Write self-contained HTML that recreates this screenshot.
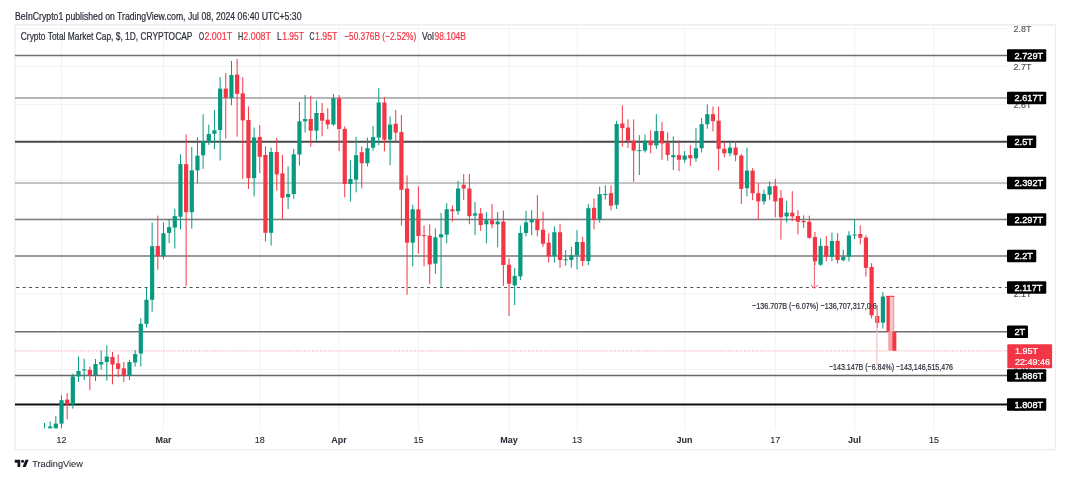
<!DOCTYPE html><html><head><meta charset="utf-8"><style>
html,body{margin:0;padding:0;background:#fff;}
body{width:1070px;height:479px;overflow:hidden;}
svg{display:block;font-family:"Liberation Sans",sans-serif;will-change:transform;}
text{stroke-width:0.22px;}
</style></head><body>
<svg width="1070" height="479" viewBox="0 0 1070 479">
<rect x="0" y="0" width="1070" height="479" fill="#fff"/>

<text x="15" y="19.5" font-size="10" fill="#2a2e39" stroke="#2a2e39" textLength="286.5" lengthAdjust="spacingAndGlyphs">BeInCrypto1 published on TradingView.com, Jul 08, 2024 06:40 UTC+5:30</text>
<rect x="14.9" y="25" width="1040.6" height="424.7" fill="none" stroke="#ededed" stroke-width="1.4"/>
<line x1="61.5" y1="25.5" x2="61.5" y2="430" stroke="#f1f2f4" stroke-width="1"/>
<line x1="163.5" y1="25.5" x2="163.5" y2="430" stroke="#f1f2f4" stroke-width="1"/>
<line x1="259.8" y1="25.5" x2="259.8" y2="430" stroke="#f1f2f4" stroke-width="1"/>
<line x1="339.1" y1="25.5" x2="339.1" y2="430" stroke="#f1f2f4" stroke-width="1"/>
<line x1="418.4" y1="25.5" x2="418.4" y2="430" stroke="#f1f2f4" stroke-width="1"/>
<line x1="509.0" y1="25.5" x2="509.0" y2="430" stroke="#f1f2f4" stroke-width="1"/>
<line x1="577.0" y1="25.5" x2="577.0" y2="430" stroke="#f1f2f4" stroke-width="1"/>
<line x1="684.6" y1="25.5" x2="684.6" y2="430" stroke="#f1f2f4" stroke-width="1"/>
<line x1="775.3" y1="25.5" x2="775.3" y2="430" stroke="#f1f2f4" stroke-width="1"/>
<line x1="854.6" y1="25.5" x2="854.6" y2="430" stroke="#f1f2f4" stroke-width="1"/>
<line x1="933.9" y1="25.5" x2="933.9" y2="430" stroke="#f1f2f4" stroke-width="1"/>
<line x1="15.5" y1="407.5" x2="1007" y2="407.5" stroke="#f1f2f4" stroke-width="1"/>
<line x1="15.5" y1="369.6" x2="1007" y2="369.6" stroke="#f1f2f4" stroke-width="1"/>
<line x1="15.5" y1="331.7" x2="1007" y2="331.7" stroke="#f1f2f4" stroke-width="1"/>
<line x1="15.5" y1="293.8" x2="1007" y2="293.8" stroke="#f1f2f4" stroke-width="1"/>
<line x1="15.5" y1="255.9" x2="1007" y2="255.9" stroke="#f1f2f4" stroke-width="1"/>
<line x1="15.5" y1="218.0" x2="1007" y2="218.0" stroke="#f1f2f4" stroke-width="1"/>
<line x1="15.5" y1="180.2" x2="1007" y2="180.2" stroke="#f1f2f4" stroke-width="1"/>
<line x1="15.5" y1="142.3" x2="1007" y2="142.3" stroke="#f1f2f4" stroke-width="1"/>
<line x1="15.5" y1="104.4" x2="1007" y2="104.4" stroke="#f1f2f4" stroke-width="1"/>
<line x1="15.5" y1="66.5" x2="1007" y2="66.5" stroke="#f1f2f4" stroke-width="1"/>
<line x1="15.5" y1="28.6" x2="1007" y2="28.6" stroke="#f1f2f4" stroke-width="1"/>
<text x="1013.5" y="410.8" font-size="9" fill="#4a4d57" stroke="#4a4d57" style="stroke-width:0.1px">1.8T</text>
<text x="1013.5" y="372.9" font-size="9" fill="#4a4d57" stroke="#4a4d57" style="stroke-width:0.1px">1.9T</text>
<text x="1013.5" y="335.0" font-size="9" fill="#4a4d57" stroke="#4a4d57" style="stroke-width:0.1px">2T</text>
<text x="1013.5" y="297.1" font-size="9" fill="#4a4d57" stroke="#4a4d57" style="stroke-width:0.1px">2.1T</text>
<text x="1013.5" y="259.2" font-size="9" fill="#4a4d57" stroke="#4a4d57" style="stroke-width:0.1px">2.2T</text>
<text x="1013.5" y="221.3" font-size="9" fill="#4a4d57" stroke="#4a4d57" style="stroke-width:0.1px">2.3T</text>
<text x="1013.5" y="183.5" font-size="9" fill="#4a4d57" stroke="#4a4d57" style="stroke-width:0.1px">2.4T</text>
<text x="1013.5" y="145.6" font-size="9" fill="#4a4d57" stroke="#4a4d57" style="stroke-width:0.1px">2.5T</text>
<text x="1013.5" y="107.7" font-size="9" fill="#4a4d57" stroke="#4a4d57" style="stroke-width:0.1px">2.6T</text>
<text x="1013.5" y="69.8" font-size="9" fill="#4a4d57" stroke="#4a4d57" style="stroke-width:0.1px">2.7T</text>
<text x="1013.5" y="31.9" font-size="9" fill="#4a4d57" stroke="#4a4d57" style="stroke-width:0.1px">2.8T</text>
<line x1="15" y1="55.5" x2="1007" y2="55.5" stroke="#6e6e6e" stroke-width="1.5"/>
<line x1="15" y1="98" x2="1007" y2="98" stroke="#6e6e6e" stroke-width="1.2"/>
<line x1="15" y1="141.75" x2="1007" y2="141.75" stroke="#4a4a4a" stroke-width="1.8"/>
<line x1="15" y1="183" x2="1007" y2="183" stroke="#8a8a8a" stroke-width="1.2"/>
<line x1="15" y1="219.5" x2="1007" y2="219.5" stroke="#7a7a7a" stroke-width="1.3"/>
<line x1="15" y1="256" x2="1007" y2="256" stroke="#7a7a7a" stroke-width="1.3"/>
<line x1="15" y1="331.75" x2="1007" y2="331.75" stroke="#707070" stroke-width="1.3"/>
<line x1="15" y1="375.5" x2="1007" y2="375.5" stroke="#666" stroke-width="1.3"/>
<line x1="15" y1="404.5" x2="1007" y2="404.5" stroke="#111" stroke-width="2"/>
<line x1="16.24" y1="287.5" x2="1007" y2="287.5" stroke="#505050" stroke-width="1.2" stroke-dasharray="3 3.42"/>
<line x1="15" y1="350.9" x2="1007" y2="350.9" stroke="#f6aab1" stroke-width="1" stroke-dasharray="1.5 1.2"/>
<line x1="44.50" y1="423.0" x2="44.50" y2="428.3" stroke="#089981" stroke-width="1"/>
<line x1="50.17" y1="421.5" x2="50.17" y2="428.3" stroke="#089981" stroke-width="1"/>
<rect x="48.07" y="426.5" width="4.2" height="1.80" fill="#089981"/>
<line x1="55.84" y1="416.0" x2="55.84" y2="428.3" stroke="#089981" stroke-width="1"/>
<rect x="53.73" y="423.6" width="4.2" height="4.70" fill="#089981"/>
<line x1="61.50" y1="395.3" x2="61.50" y2="428.3" stroke="#089981" stroke-width="1"/>
<rect x="59.40" y="400.2" width="4.2" height="23.40" fill="#089981"/>
<line x1="67.17" y1="393.0" x2="67.17" y2="419.4" stroke="#f23645" stroke-width="1"/>
<rect x="65.07" y="399.6" width="4.2" height="4.90" fill="#f23645"/>
<line x1="72.83" y1="373.6" x2="72.83" y2="408.7" stroke="#089981" stroke-width="1"/>
<rect x="70.73" y="376.4" width="4.2" height="28.10" fill="#089981"/>
<line x1="78.50" y1="356.6" x2="78.50" y2="382.1" stroke="#089981" stroke-width="1"/>
<rect x="76.40" y="371.0" width="4.2" height="5.40" fill="#089981"/>
<line x1="84.16" y1="358.7" x2="84.16" y2="380.0" stroke="#089981" stroke-width="1"/>
<rect x="82.06" y="369.4" width="4.2" height="1.10" fill="#089981"/>
<line x1="89.83" y1="366.6" x2="89.83" y2="390.2" stroke="#f23645" stroke-width="1"/>
<rect x="87.73" y="369.8" width="4.2" height="5.30" fill="#f23645"/>
<line x1="95.49" y1="359.0" x2="95.49" y2="381.0" stroke="#089981" stroke-width="1"/>
<rect x="93.39" y="364.0" width="4.2" height="11.10" fill="#089981"/>
<line x1="101.16" y1="350.6" x2="101.16" y2="369.8" stroke="#089981" stroke-width="1"/>
<rect x="99.06" y="362.0" width="4.2" height="2.50" fill="#089981"/>
<line x1="106.82" y1="345.3" x2="106.82" y2="380.6" stroke="#089981" stroke-width="1"/>
<rect x="104.72" y="356.6" width="4.2" height="5.40" fill="#089981"/>
<line x1="112.48" y1="352.0" x2="112.48" y2="384.3" stroke="#f23645" stroke-width="1"/>
<rect x="110.39" y="357.0" width="4.2" height="7.50" fill="#f23645"/>
<line x1="118.15" y1="354.5" x2="118.15" y2="377.2" stroke="#f23645" stroke-width="1"/>
<rect x="116.05" y="363.4" width="4.2" height="5.50" fill="#f23645"/>
<line x1="123.81" y1="362.0" x2="123.81" y2="382.0" stroke="#f23645" stroke-width="1"/>
<rect x="121.72" y="368.3" width="4.2" height="7.40" fill="#f23645"/>
<line x1="129.48" y1="359.8" x2="129.48" y2="380.0" stroke="#089981" stroke-width="1"/>
<rect x="127.38" y="362.0" width="4.2" height="13.70" fill="#089981"/>
<line x1="135.14" y1="350.0" x2="135.14" y2="366.6" stroke="#089981" stroke-width="1"/>
<rect x="133.04" y="354.1" width="4.2" height="8.40" fill="#089981"/>
<line x1="140.81" y1="318.2" x2="140.81" y2="366.6" stroke="#089981" stroke-width="1"/>
<rect x="138.71" y="323.8" width="4.2" height="29.70" fill="#089981"/>
<line x1="146.47" y1="287.3" x2="146.47" y2="327.6" stroke="#089981" stroke-width="1"/>
<rect x="144.38" y="299.8" width="4.2" height="24.00" fill="#089981"/>
<line x1="152.14" y1="222.5" x2="152.14" y2="311.7" stroke="#089981" stroke-width="1"/>
<rect x="150.04" y="246.2" width="4.2" height="53.60" fill="#089981"/>
<line x1="157.81" y1="215.6" x2="157.81" y2="269.7" stroke="#f23645" stroke-width="1"/>
<rect x="155.71" y="246.0" width="4.2" height="10.30" fill="#f23645"/>
<line x1="163.47" y1="222.5" x2="163.47" y2="259.3" stroke="#089981" stroke-width="1"/>
<rect x="161.37" y="233.3" width="4.2" height="23.00" fill="#089981"/>
<line x1="169.13" y1="219.0" x2="169.13" y2="243.2" stroke="#089981" stroke-width="1"/>
<rect x="167.03" y="227.1" width="4.2" height="5.80" fill="#089981"/>
<line x1="174.80" y1="208.7" x2="174.80" y2="248.5" stroke="#089981" stroke-width="1"/>
<rect x="172.70" y="216.1" width="4.2" height="11.50" fill="#089981"/>
<line x1="180.47" y1="154.3" x2="180.47" y2="229.4" stroke="#089981" stroke-width="1"/>
<rect x="178.37" y="164.1" width="4.2" height="52.70" fill="#089981"/>
<line x1="186.13" y1="134.4" x2="186.13" y2="286.2" stroke="#f23645" stroke-width="1"/>
<rect x="184.03" y="164.1" width="4.2" height="48.10" fill="#f23645"/>
<line x1="191.79" y1="147.0" x2="191.79" y2="228.7" stroke="#089981" stroke-width="1"/>
<rect x="189.69" y="170.4" width="4.2" height="41.80" fill="#089981"/>
<line x1="197.46" y1="137.2" x2="197.46" y2="183.5" stroke="#089981" stroke-width="1"/>
<rect x="195.36" y="155.7" width="4.2" height="14.70" fill="#089981"/>
<line x1="203.12" y1="114.2" x2="203.12" y2="168.9" stroke="#089981" stroke-width="1"/>
<rect x="201.03" y="141.1" width="4.2" height="14.20" fill="#089981"/>
<line x1="208.79" y1="124.6" x2="208.79" y2="144.9" stroke="#089981" stroke-width="1"/>
<rect x="206.69" y="134.0" width="4.2" height="7.80" fill="#089981"/>
<line x1="214.46" y1="110.0" x2="214.46" y2="149.0" stroke="#089981" stroke-width="1"/>
<rect x="212.36" y="130.3" width="4.2" height="3.50" fill="#089981"/>
<line x1="220.12" y1="77.1" x2="220.12" y2="160.5" stroke="#089981" stroke-width="1"/>
<rect x="218.02" y="88.6" width="4.2" height="41.40" fill="#089981"/>
<line x1="225.78" y1="73.0" x2="225.78" y2="138.7" stroke="#f23645" stroke-width="1"/>
<rect x="223.69" y="88.6" width="4.2" height="9.40" fill="#f23645"/>
<line x1="231.45" y1="60.9" x2="231.45" y2="105.3" stroke="#089981" stroke-width="1"/>
<rect x="229.35" y="75.0" width="4.2" height="23.00" fill="#089981"/>
<line x1="237.12" y1="58.8" x2="237.12" y2="136.6" stroke="#f23645" stroke-width="1"/>
<rect x="235.02" y="74.6" width="4.2" height="19.20" fill="#f23645"/>
<line x1="242.78" y1="77.1" x2="242.78" y2="178.9" stroke="#f23645" stroke-width="1"/>
<rect x="240.68" y="93.4" width="4.2" height="27.00" fill="#f23645"/>
<line x1="248.44" y1="106.4" x2="248.44" y2="188.9" stroke="#f23645" stroke-width="1"/>
<rect x="246.34" y="120.0" width="4.2" height="58.10" fill="#f23645"/>
<line x1="254.11" y1="127.5" x2="254.11" y2="196.4" stroke="#089981" stroke-width="1"/>
<rect x="252.01" y="137.5" width="4.2" height="40.60" fill="#089981"/>
<line x1="259.77" y1="125.2" x2="259.77" y2="173.1" stroke="#f23645" stroke-width="1"/>
<rect x="257.67" y="137.0" width="4.2" height="19.80" fill="#f23645"/>
<line x1="265.44" y1="146.3" x2="265.44" y2="241.5" stroke="#f23645" stroke-width="1"/>
<rect x="263.34" y="155.0" width="4.2" height="77.80" fill="#f23645"/>
<line x1="271.11" y1="147.6" x2="271.11" y2="245.5" stroke="#089981" stroke-width="1"/>
<rect x="269.00" y="152.0" width="4.2" height="80.80" fill="#089981"/>
<line x1="276.77" y1="138.0" x2="276.77" y2="190.7" stroke="#f23645" stroke-width="1"/>
<rect x="274.67" y="152.0" width="4.2" height="22.40" fill="#f23645"/>
<line x1="282.44" y1="155.0" x2="282.44" y2="219.0" stroke="#f23645" stroke-width="1"/>
<rect x="280.33" y="173.4" width="4.2" height="24.30" fill="#f23645"/>
<line x1="288.10" y1="166.4" x2="288.10" y2="209.0" stroke="#089981" stroke-width="1"/>
<rect x="286.00" y="194.0" width="4.2" height="3.20" fill="#089981"/>
<line x1="293.76" y1="148.8" x2="293.76" y2="199.0" stroke="#089981" stroke-width="1"/>
<rect x="291.66" y="154.3" width="4.2" height="39.70" fill="#089981"/>
<line x1="299.43" y1="101.9" x2="299.43" y2="165.6" stroke="#089981" stroke-width="1"/>
<rect x="297.33" y="121.3" width="4.2" height="33.20" fill="#089981"/>
<line x1="305.10" y1="95.0" x2="305.10" y2="132.6" stroke="#089981" stroke-width="1"/>
<rect x="303.00" y="119.0" width="4.2" height="2.30" fill="#089981"/>
<line x1="310.76" y1="95.7" x2="310.76" y2="146.8" stroke="#f23645" stroke-width="1"/>
<rect x="308.66" y="119.0" width="4.2" height="11.70" fill="#f23645"/>
<line x1="316.43" y1="100.5" x2="316.43" y2="140.5" stroke="#089981" stroke-width="1"/>
<rect x="314.32" y="113.0" width="4.2" height="17.70" fill="#089981"/>
<line x1="322.09" y1="103.0" x2="322.09" y2="136.4" stroke="#f23645" stroke-width="1"/>
<rect x="319.99" y="113.0" width="4.2" height="7.70" fill="#f23645"/>
<line x1="327.75" y1="108.2" x2="327.75" y2="129.0" stroke="#f23645" stroke-width="1"/>
<rect x="325.65" y="119.7" width="4.2" height="4.80" fill="#f23645"/>
<line x1="333.42" y1="94.0" x2="333.42" y2="126.0" stroke="#089981" stroke-width="1"/>
<rect x="331.32" y="98.2" width="4.2" height="26.30" fill="#089981"/>
<line x1="339.08" y1="95.0" x2="339.08" y2="151.0" stroke="#f23645" stroke-width="1"/>
<rect x="336.98" y="98.2" width="4.2" height="30.80" fill="#f23645"/>
<line x1="344.75" y1="126.4" x2="344.75" y2="197.3" stroke="#f23645" stroke-width="1"/>
<rect x="342.65" y="128.9" width="4.2" height="55.10" fill="#f23645"/>
<line x1="350.42" y1="160.2" x2="350.42" y2="201.5" stroke="#089981" stroke-width="1"/>
<rect x="348.31" y="179.0" width="4.2" height="5.00" fill="#089981"/>
<line x1="356.08" y1="136.9" x2="356.08" y2="192.3" stroke="#089981" stroke-width="1"/>
<rect x="353.98" y="155.2" width="4.2" height="24.50" fill="#089981"/>
<line x1="361.75" y1="146.4" x2="361.75" y2="188.3" stroke="#f23645" stroke-width="1"/>
<rect x="359.64" y="152.2" width="4.2" height="11.00" fill="#f23645"/>
<line x1="367.41" y1="137.6" x2="367.41" y2="166.5" stroke="#089981" stroke-width="1"/>
<rect x="365.31" y="148.2" width="4.2" height="15.00" fill="#089981"/>
<line x1="373.07" y1="125.9" x2="373.07" y2="150.7" stroke="#089981" stroke-width="1"/>
<rect x="370.97" y="137.1" width="4.2" height="10.60" fill="#089981"/>
<line x1="378.74" y1="88.0" x2="378.74" y2="145.2" stroke="#089981" stroke-width="1"/>
<rect x="376.64" y="102.5" width="4.2" height="35.10" fill="#089981"/>
<line x1="384.41" y1="97.0" x2="384.41" y2="151.4" stroke="#f23645" stroke-width="1"/>
<rect x="382.31" y="102.5" width="4.2" height="37.10" fill="#f23645"/>
<line x1="390.07" y1="116.3" x2="390.07" y2="165.2" stroke="#089981" stroke-width="1"/>
<rect x="387.97" y="124.6" width="4.2" height="15.00" fill="#089981"/>
<line x1="395.74" y1="110.0" x2="395.74" y2="141.4" stroke="#f23645" stroke-width="1"/>
<rect x="393.63" y="123.8" width="4.2" height="8.80" fill="#f23645"/>
<line x1="401.40" y1="115.0" x2="401.40" y2="225.6" stroke="#f23645" stroke-width="1"/>
<rect x="399.30" y="132.1" width="4.2" height="57.70" fill="#f23645"/>
<line x1="407.06" y1="175.4" x2="407.06" y2="294.8" stroke="#f23645" stroke-width="1"/>
<rect x="404.96" y="188.5" width="4.2" height="54.20" fill="#f23645"/>
<line x1="412.73" y1="204.7" x2="412.73" y2="266.3" stroke="#089981" stroke-width="1"/>
<rect x="410.63" y="209.3" width="4.2" height="33.40" fill="#089981"/>
<line x1="418.39" y1="186.3" x2="418.39" y2="253.6" stroke="#f23645" stroke-width="1"/>
<rect x="416.29" y="209.3" width="4.2" height="26.70" fill="#f23645"/>
<line x1="424.06" y1="225.6" x2="424.06" y2="266.3" stroke="#f23645" stroke-width="1"/>
<rect x="421.96" y="235.1" width="4.2" height="1.00" fill="#f23645"/>
<line x1="429.73" y1="224.3" x2="429.73" y2="284.0" stroke="#f23645" stroke-width="1"/>
<rect x="427.62" y="235.7" width="4.2" height="28.70" fill="#f23645"/>
<line x1="435.39" y1="228.3" x2="435.39" y2="273.7" stroke="#089981" stroke-width="1"/>
<rect x="433.29" y="237.3" width="4.2" height="26.30" fill="#089981"/>
<line x1="441.06" y1="212.9" x2="441.06" y2="288.0" stroke="#089981" stroke-width="1"/>
<rect x="438.95" y="234.3" width="4.2" height="3.00" fill="#089981"/>
<line x1="446.72" y1="203.1" x2="446.72" y2="243.3" stroke="#089981" stroke-width="1"/>
<rect x="444.62" y="209.3" width="4.2" height="25.30" fill="#089981"/>
<line x1="452.38" y1="205.3" x2="452.38" y2="221.6" stroke="#f23645" stroke-width="1"/>
<rect x="450.28" y="209.3" width="4.2" height="1.90" fill="#f23645"/>
<line x1="458.05" y1="180.9" x2="458.05" y2="214.8" stroke="#089981" stroke-width="1"/>
<rect x="455.95" y="188.5" width="4.2" height="22.70" fill="#089981"/>
<line x1="463.71" y1="174.0" x2="463.71" y2="199.9" stroke="#f23645" stroke-width="1"/>
<rect x="461.61" y="184.9" width="4.2" height="3.60" fill="#f23645"/>
<line x1="469.38" y1="174.0" x2="469.38" y2="224.3" stroke="#f23645" stroke-width="1"/>
<rect x="467.28" y="188.5" width="4.2" height="27.60" fill="#f23645"/>
<line x1="475.05" y1="202.0" x2="475.05" y2="235.1" stroke="#089981" stroke-width="1"/>
<rect x="472.94" y="213.4" width="4.2" height="2.20" fill="#089981"/>
<line x1="480.71" y1="208.0" x2="480.71" y2="231.0" stroke="#f23645" stroke-width="1"/>
<rect x="478.61" y="213.4" width="4.2" height="11.70" fill="#f23645"/>
<line x1="486.38" y1="212.0" x2="486.38" y2="243.3" stroke="#089981" stroke-width="1"/>
<rect x="484.27" y="220.2" width="4.2" height="4.10" fill="#089981"/>
<line x1="492.04" y1="203.9" x2="492.04" y2="228.3" stroke="#f23645" stroke-width="1"/>
<rect x="489.94" y="220.2" width="4.2" height="4.10" fill="#f23645"/>
<line x1="497.70" y1="212.0" x2="497.70" y2="247.3" stroke="#089981" stroke-width="1"/>
<rect x="495.60" y="221.6" width="4.2" height="2.70" fill="#089981"/>
<line x1="503.37" y1="210.7" x2="503.37" y2="285.9" stroke="#f23645" stroke-width="1"/>
<rect x="501.27" y="221.6" width="4.2" height="43.40" fill="#f23645"/>
<line x1="509.04" y1="258.4" x2="509.04" y2="316.0" stroke="#f23645" stroke-width="1"/>
<rect x="506.94" y="264.7" width="4.2" height="19.00" fill="#f23645"/>
<line x1="514.70" y1="268.0" x2="514.70" y2="305.1" stroke="#089981" stroke-width="1"/>
<rect x="512.60" y="275.9" width="4.2" height="9.50" fill="#089981"/>
<line x1="520.37" y1="225.6" x2="520.37" y2="280.0" stroke="#089981" stroke-width="1"/>
<rect x="518.26" y="233.0" width="4.2" height="43.40" fill="#089981"/>
<line x1="526.03" y1="210.7" x2="526.03" y2="236.5" stroke="#089981" stroke-width="1"/>
<rect x="523.93" y="222.4" width="4.2" height="10.60" fill="#089981"/>
<line x1="531.69" y1="210.2" x2="531.69" y2="235.2" stroke="#089981" stroke-width="1"/>
<rect x="529.59" y="219.3" width="4.2" height="3.10" fill="#089981"/>
<line x1="537.36" y1="195.0" x2="537.36" y2="236.4" stroke="#f23645" stroke-width="1"/>
<rect x="535.26" y="219.2" width="4.2" height="10.90" fill="#f23645"/>
<line x1="543.02" y1="211.7" x2="543.02" y2="246.8" stroke="#f23645" stroke-width="1"/>
<rect x="540.92" y="229.7" width="4.2" height="14.00" fill="#f23645"/>
<line x1="548.69" y1="233.2" x2="548.69" y2="262.5" stroke="#f23645" stroke-width="1"/>
<rect x="546.59" y="242.6" width="4.2" height="13.60" fill="#f23645"/>
<line x1="554.36" y1="226.3" x2="554.36" y2="262.5" stroke="#089981" stroke-width="1"/>
<rect x="552.25" y="232.2" width="4.2" height="24.00" fill="#089981"/>
<line x1="560.02" y1="223.8" x2="560.02" y2="267.7" stroke="#f23645" stroke-width="1"/>
<rect x="557.92" y="232.2" width="4.2" height="27.80" fill="#f23645"/>
<line x1="565.68" y1="250.0" x2="565.68" y2="265.6" stroke="#089981" stroke-width="1"/>
<rect x="563.58" y="259.3" width="4.2" height="1.00" fill="#089981"/>
<line x1="571.35" y1="246.8" x2="571.35" y2="267.7" stroke="#089981" stroke-width="1"/>
<rect x="569.25" y="255.2" width="4.2" height="4.80" fill="#089981"/>
<line x1="577.01" y1="230.1" x2="577.01" y2="269.4" stroke="#089981" stroke-width="1"/>
<rect x="574.91" y="242.0" width="4.2" height="13.20" fill="#089981"/>
<line x1="582.68" y1="236.8" x2="582.68" y2="266.0" stroke="#f23645" stroke-width="1"/>
<rect x="580.58" y="242.0" width="4.2" height="19.00" fill="#f23645"/>
<line x1="588.35" y1="204.0" x2="588.35" y2="265.2" stroke="#089981" stroke-width="1"/>
<rect x="586.25" y="208.2" width="4.2" height="52.80" fill="#089981"/>
<line x1="594.01" y1="198.4" x2="594.01" y2="229.5" stroke="#f23645" stroke-width="1"/>
<rect x="591.91" y="207.8" width="4.2" height="11.90" fill="#f23645"/>
<line x1="599.67" y1="186.7" x2="599.67" y2="222.8" stroke="#089981" stroke-width="1"/>
<rect x="597.57" y="194.2" width="4.2" height="25.50" fill="#089981"/>
<line x1="605.34" y1="185.4" x2="605.34" y2="199.5" stroke="#089981" stroke-width="1"/>
<rect x="603.24" y="194.0" width="4.2" height="1.00" fill="#089981"/>
<line x1="611.00" y1="185.4" x2="611.00" y2="210.3" stroke="#f23645" stroke-width="1"/>
<rect x="608.90" y="193.2" width="4.2" height="12.50" fill="#f23645"/>
<line x1="616.67" y1="120.8" x2="616.67" y2="209.0" stroke="#089981" stroke-width="1"/>
<rect x="614.57" y="124.0" width="4.2" height="80.90" fill="#089981"/>
<line x1="622.34" y1="105.3" x2="622.34" y2="146.6" stroke="#f23645" stroke-width="1"/>
<rect x="620.24" y="123.5" width="4.2" height="4.60" fill="#f23645"/>
<line x1="628.00" y1="119.4" x2="628.00" y2="147.9" stroke="#f23645" stroke-width="1"/>
<rect x="625.90" y="127.6" width="4.2" height="13.00" fill="#f23645"/>
<line x1="633.66" y1="119.4" x2="633.66" y2="181.8" stroke="#f23645" stroke-width="1"/>
<rect x="631.56" y="140.6" width="4.2" height="10.00" fill="#f23645"/>
<line x1="639.33" y1="135.2" x2="639.33" y2="175.0" stroke="#089981" stroke-width="1"/>
<rect x="637.23" y="150.1" width="4.2" height="1.00" fill="#089981"/>
<line x1="645.00" y1="134.3" x2="645.00" y2="152.5" stroke="#089981" stroke-width="1"/>
<rect x="642.89" y="140.6" width="4.2" height="10.00" fill="#089981"/>
<line x1="650.66" y1="130.3" x2="650.66" y2="153.3" stroke="#f23645" stroke-width="1"/>
<rect x="648.56" y="140.6" width="4.2" height="4.60" fill="#f23645"/>
<line x1="656.33" y1="114.1" x2="656.33" y2="149.0" stroke="#089981" stroke-width="1"/>
<rect x="654.23" y="131.1" width="4.2" height="14.40" fill="#089981"/>
<line x1="661.99" y1="122.1" x2="661.99" y2="159.7" stroke="#f23645" stroke-width="1"/>
<rect x="659.89" y="131.1" width="4.2" height="12.30" fill="#f23645"/>
<line x1="667.65" y1="132.2" x2="667.65" y2="160.8" stroke="#f23645" stroke-width="1"/>
<rect x="665.55" y="142.6" width="4.2" height="12.30" fill="#f23645"/>
<line x1="673.32" y1="136.3" x2="673.32" y2="170.2" stroke="#089981" stroke-width="1"/>
<rect x="671.22" y="155.1" width="4.2" height="2.10" fill="#089981"/>
<line x1="678.99" y1="140.5" x2="678.99" y2="171.2" stroke="#f23645" stroke-width="1"/>
<rect x="676.88" y="155.1" width="4.2" height="4.60" fill="#f23645"/>
<line x1="684.65" y1="151.0" x2="684.65" y2="162.8" stroke="#089981" stroke-width="1"/>
<rect x="682.55" y="155.5" width="4.2" height="4.20" fill="#089981"/>
<line x1="690.32" y1="145.1" x2="690.32" y2="166.0" stroke="#f23645" stroke-width="1"/>
<rect x="688.22" y="155.1" width="4.2" height="3.20" fill="#f23645"/>
<line x1="695.98" y1="128.0" x2="695.98" y2="161.8" stroke="#089981" stroke-width="1"/>
<rect x="693.88" y="148.2" width="4.2" height="10.10" fill="#089981"/>
<line x1="701.64" y1="118.0" x2="701.64" y2="152.4" stroke="#089981" stroke-width="1"/>
<rect x="699.54" y="124.2" width="4.2" height="24.00" fill="#089981"/>
<line x1="707.31" y1="104.4" x2="707.31" y2="128.8" stroke="#089981" stroke-width="1"/>
<rect x="705.21" y="114.2" width="4.2" height="10.00" fill="#089981"/>
<line x1="712.98" y1="106.5" x2="712.98" y2="131.5" stroke="#f23645" stroke-width="1"/>
<rect x="710.88" y="114.2" width="4.2" height="6.90" fill="#f23645"/>
<line x1="718.64" y1="106.5" x2="718.64" y2="170.4" stroke="#f23645" stroke-width="1"/>
<rect x="716.54" y="120.7" width="4.2" height="28.10" fill="#f23645"/>
<line x1="724.30" y1="142.0" x2="724.30" y2="157.3" stroke="#f23645" stroke-width="1"/>
<rect x="722.20" y="148.8" width="4.2" height="4.50" fill="#f23645"/>
<line x1="729.97" y1="142.0" x2="729.97" y2="156.3" stroke="#089981" stroke-width="1"/>
<rect x="727.87" y="147.6" width="4.2" height="5.70" fill="#089981"/>
<line x1="735.63" y1="141.3" x2="735.63" y2="161.3" stroke="#f23645" stroke-width="1"/>
<rect x="733.53" y="147.6" width="4.2" height="7.50" fill="#f23645"/>
<line x1="741.30" y1="153.8" x2="741.30" y2="203.9" stroke="#f23645" stroke-width="1"/>
<rect x="739.20" y="155.6" width="4.2" height="33.30" fill="#f23645"/>
<line x1="746.97" y1="147.6" x2="746.97" y2="196.4" stroke="#089981" stroke-width="1"/>
<rect x="744.87" y="170.6" width="4.2" height="17.60" fill="#089981"/>
<line x1="752.63" y1="168.1" x2="752.63" y2="200.2" stroke="#f23645" stroke-width="1"/>
<rect x="750.53" y="170.6" width="4.2" height="22.60" fill="#f23645"/>
<line x1="758.29" y1="183.1" x2="758.29" y2="219.7" stroke="#f23645" stroke-width="1"/>
<rect x="756.19" y="193.2" width="4.2" height="8.20" fill="#f23645"/>
<line x1="763.96" y1="189.7" x2="763.96" y2="204.7" stroke="#089981" stroke-width="1"/>
<rect x="761.86" y="193.9" width="4.2" height="7.50" fill="#089981"/>
<line x1="769.62" y1="181.4" x2="769.62" y2="199.7" stroke="#089981" stroke-width="1"/>
<rect x="767.52" y="186.4" width="4.2" height="8.30" fill="#089981"/>
<line x1="775.29" y1="178.9" x2="775.29" y2="217.2" stroke="#f23645" stroke-width="1"/>
<rect x="773.19" y="185.9" width="4.2" height="15.50" fill="#f23645"/>
<line x1="780.96" y1="190.0" x2="780.96" y2="239.6" stroke="#f23645" stroke-width="1"/>
<rect x="778.86" y="198.0" width="4.2" height="19.10" fill="#f23645"/>
<line x1="786.62" y1="200.8" x2="786.62" y2="222.4" stroke="#089981" stroke-width="1"/>
<rect x="784.52" y="212.6" width="4.2" height="3.80" fill="#089981"/>
<line x1="792.28" y1="191.2" x2="792.28" y2="221.2" stroke="#f23645" stroke-width="1"/>
<rect x="790.18" y="212.6" width="4.2" height="3.80" fill="#f23645"/>
<line x1="797.95" y1="210.2" x2="797.95" y2="234.4" stroke="#f23645" stroke-width="1"/>
<rect x="795.85" y="216.0" width="4.2" height="5.70" fill="#f23645"/>
<line x1="803.62" y1="215.3" x2="803.62" y2="227.9" stroke="#f23645" stroke-width="1"/>
<rect x="801.51" y="221.0" width="4.2" height="1.20" fill="#f23645"/>
<line x1="809.28" y1="215.7" x2="809.28" y2="238.7" stroke="#f23645" stroke-width="1"/>
<rect x="807.18" y="221.7" width="4.2" height="16.10" fill="#f23645"/>
<line x1="814.95" y1="232.0" x2="814.95" y2="265.0" stroke="#f23645" stroke-width="1"/>
<rect x="812.85" y="237.1" width="4.2" height="24.20" fill="#f23645"/>
<line x1="820.61" y1="238.3" x2="820.61" y2="265.9" stroke="#089981" stroke-width="1"/>
<rect x="818.51" y="245.9" width="4.2" height="18.80" fill="#089981"/>
<line x1="826.27" y1="236.0" x2="826.27" y2="261.3" stroke="#f23645" stroke-width="1"/>
<rect x="824.17" y="245.9" width="4.2" height="10.80" fill="#f23645"/>
<line x1="831.94" y1="232.5" x2="831.94" y2="261.3" stroke="#089981" stroke-width="1"/>
<rect x="829.84" y="241.0" width="4.2" height="15.70" fill="#089981"/>
<line x1="837.61" y1="233.2" x2="837.61" y2="263.5" stroke="#f23645" stroke-width="1"/>
<rect x="835.50" y="240.9" width="4.2" height="19.10" fill="#f23645"/>
<line x1="843.27" y1="249.7" x2="843.27" y2="261.4" stroke="#089981" stroke-width="1"/>
<rect x="841.17" y="256.7" width="4.2" height="3.50" fill="#089981"/>
<line x1="848.94" y1="231.2" x2="848.94" y2="261.4" stroke="#089981" stroke-width="1"/>
<rect x="846.84" y="235.4" width="4.2" height="21.30" fill="#089981"/>
<line x1="854.60" y1="219.4" x2="854.60" y2="239.0" stroke="#089981" stroke-width="1"/>
<rect x="852.50" y="234.5" width="4.2" height="1.00" fill="#089981"/>
<line x1="860.26" y1="225.3" x2="860.26" y2="244.3" stroke="#f23645" stroke-width="1"/>
<rect x="858.16" y="234.0" width="4.2" height="3.70" fill="#f23645"/>
<line x1="865.93" y1="235.4" x2="865.93" y2="276.5" stroke="#f23645" stroke-width="1"/>
<rect x="863.83" y="237.6" width="4.2" height="30.30" fill="#f23645"/>
<line x1="871.60" y1="263.2" x2="871.60" y2="318.4" stroke="#f23645" stroke-width="1"/>
<rect x="869.50" y="267.0" width="4.2" height="48.30" fill="#f23645"/>
<line x1="877.26" y1="305.3" x2="877.26" y2="328.0" stroke="#f23645" stroke-width="1"/>
<rect x="875.16" y="316.0" width="4.2" height="6.90" fill="#f23645"/>
<line x1="882.92" y1="292.1" x2="882.92" y2="328.5" stroke="#089981" stroke-width="1"/>
<rect x="880.82" y="296.5" width="4.2" height="26.20" fill="#089981"/>
<line x1="888.59" y1="296.0" x2="888.59" y2="331.6" stroke="#f23645" stroke-width="1"/>
<rect x="886.49" y="296.0" width="4.2" height="35.60" fill="#f23645"/>
<line x1="894.25" y1="331.6" x2="894.25" y2="350.7" stroke="#f23645" stroke-width="1"/>
<rect x="892.15" y="331.6" width="4.2" height="19.10" fill="#f23645"/>
<rect x="889.7" y="296" width="4.6" height="35.6" fill="#f9c6ca"/>
<line x1="893.6" y1="296" x2="893.6" y2="331.6" stroke="#f28a93" stroke-width="0.8"/>
<line x1="886" y1="296.3" x2="894.3" y2="296.3" stroke="#f23645" stroke-width="1"/>
<rect x="888.2" y="331.6" width="4" height="19.1" fill="#f7a3aa"/>
<line x1="876.9" y1="305" x2="876.9" y2="366" stroke="#f7b0b6" stroke-width="1"/>
<path d="M814.4 261 L814.4 288.3 M810.8 284.9 L814.4 288.3 L818 284.9" fill="none" stroke="#e8606b" stroke-width="1"/>
<text x="752" y="308.7" font-size="9.6" fill="#2a2e39" stroke="#2a2e39" textLength="124.8" lengthAdjust="spacingAndGlyphs">−136.707B (−6.07%) −136,707,317,0 6</text>
<text x="829" y="369.6" font-size="9.6" fill="#2a2e39" stroke="#2a2e39" textLength="124" lengthAdjust="spacingAndGlyphs">−143.147B (−6.84%) −143,146,515,476</text>
<rect x="1007" y="49.25" width="39.25" height="12.5" fill="#000" rx="1"/>
<text x="1014.5" y="58.90" font-size="9.2" fill="#fff" stroke="#fff" style="stroke-width:0.35px">2.729T</text>
<rect x="1007" y="91.75" width="39.25" height="12.5" fill="#000" rx="1"/>
<text x="1014.5" y="101.40" font-size="9.2" fill="#fff" stroke="#fff" style="stroke-width:0.35px">2.617T</text>
<rect x="1007" y="135.50" width="29.25" height="12.5" fill="#000" rx="1"/>
<text x="1014.5" y="145.15" font-size="9.2" fill="#fff" stroke="#fff" style="stroke-width:0.35px">2.5T</text>
<rect x="1007" y="176.75" width="39.25" height="12.5" fill="#000" rx="1"/>
<text x="1014.5" y="186.40" font-size="9.2" fill="#fff" stroke="#fff" style="stroke-width:0.35px">2.392T</text>
<rect x="1007" y="213.25" width="39.25" height="12.5" fill="#000" rx="1"/>
<text x="1014.5" y="222.90" font-size="9.2" fill="#fff" stroke="#fff" style="stroke-width:0.35px">2.297T</text>
<rect x="1007" y="249.75" width="29.25" height="12.5" fill="#000" rx="1"/>
<text x="1014.5" y="259.40" font-size="9.2" fill="#fff" stroke="#fff" style="stroke-width:0.35px">2.2T</text>
<rect x="1007" y="281.25" width="39.25" height="12.5" fill="#000" rx="1"/>
<text x="1014.5" y="290.90" font-size="9.2" fill="#fff" stroke="#fff" style="stroke-width:0.35px">2.117T</text>
<rect x="1007" y="325.50" width="21.00" height="12.5" fill="#000" rx="1"/>
<text x="1014.5" y="335.15" font-size="9.2" fill="#fff" stroke="#fff" style="stroke-width:0.35px">2T</text>
<rect x="1007" y="369.25" width="39.25" height="12.5" fill="#000" rx="1"/>
<text x="1014.5" y="378.90" font-size="9.2" fill="#fff" stroke="#fff" style="stroke-width:0.35px">1.886T</text>
<rect x="1007" y="398.25" width="39.25" height="12.5" fill="#000" rx="1"/>
<text x="1014.5" y="407.90" font-size="9.2" fill="#fff" stroke="#fff" style="stroke-width:0.35px">1.808T</text>
<rect x="1007.3" y="344.2" width="44.8" height="24" fill="#f23645" rx="1"/>
<text x="1015" y="354.2" font-size="9" fill="#fff" stroke="#fff">1.95T</text>
<text x="1015" y="365.3" font-size="9" fill="#fff" stroke="#fff">22:49:46</text>
<text x="61.5" y="443" font-size="9" text-anchor="middle" font-weight="normal" fill="#2a2e39" stroke="#2a2e39" style="stroke-width:0.12px">12</text>
<text x="163.5" y="443" font-size="9" text-anchor="middle" font-weight="bold" fill="#2a2e39" stroke="#2a2e39" style="stroke-width:0.05px">Mar</text>
<text x="259.8" y="443" font-size="9" text-anchor="middle" font-weight="normal" fill="#2a2e39" stroke="#2a2e39" style="stroke-width:0.12px">18</text>
<text x="339.1" y="443" font-size="9" text-anchor="middle" font-weight="bold" fill="#2a2e39" stroke="#2a2e39" style="stroke-width:0.05px">Apr</text>
<text x="418.4" y="443" font-size="9" text-anchor="middle" font-weight="normal" fill="#2a2e39" stroke="#2a2e39" style="stroke-width:0.12px">15</text>
<text x="509.0" y="443" font-size="9" text-anchor="middle" font-weight="bold" fill="#2a2e39" stroke="#2a2e39" style="stroke-width:0.05px">May</text>
<text x="577.0" y="443" font-size="9" text-anchor="middle" font-weight="normal" fill="#2a2e39" stroke="#2a2e39" style="stroke-width:0.12px">13</text>
<text x="684.6" y="443" font-size="9" text-anchor="middle" font-weight="bold" fill="#2a2e39" stroke="#2a2e39" style="stroke-width:0.05px">Jun</text>
<text x="775.3" y="443" font-size="9" text-anchor="middle" font-weight="normal" fill="#2a2e39" stroke="#2a2e39" style="stroke-width:0.12px">17</text>
<text x="854.6" y="443" font-size="9" text-anchor="middle" font-weight="bold" fill="#2a2e39" stroke="#2a2e39" style="stroke-width:0.05px">Jul</text>
<text x="933.9" y="443" font-size="9" text-anchor="middle" font-weight="normal" fill="#2a2e39" stroke="#2a2e39" style="stroke-width:0.12px">15</text>
<text x="20.8" y="40.2" font-size="10.6" fill="#2a2e39" stroke="#2a2e39" textLength="171.6" lengthAdjust="spacingAndGlyphs">Crypto Total Market Cap, $, 1D, CRYPTOCAP</text>
<text x="199" y="40.2" font-size="10.6" fill="#2a2e39" stroke="#2a2e39" textLength="5" lengthAdjust="spacingAndGlyphs">O</text>
<text x="204.4" y="40.2" font-size="10.6" fill="#f23645" stroke="#f23645" textLength="27.7" lengthAdjust="spacingAndGlyphs">2.001T</text>
<text x="237.9" y="40.2" font-size="10.6" fill="#2a2e39" stroke="#2a2e39" textLength="5.2" lengthAdjust="spacingAndGlyphs">H</text>
<text x="243.3" y="40.2" font-size="10.6" fill="#f23645" stroke="#f23645" textLength="27.7" lengthAdjust="spacingAndGlyphs">2.008T</text>
<text x="276.9" y="40.2" font-size="10.6" fill="#2a2e39" stroke="#2a2e39" textLength="4.6" lengthAdjust="spacingAndGlyphs">L</text>
<text x="282.2" y="40.2" font-size="10.6" fill="#f23645" stroke="#f23645" textLength="21.6" lengthAdjust="spacingAndGlyphs">1.95T</text>
<text x="309.6" y="40.2" font-size="10.6" fill="#2a2e39" stroke="#2a2e39" textLength="5" lengthAdjust="spacingAndGlyphs">C</text>
<text x="315" y="40.2" font-size="10.6" fill="#f23645" stroke="#f23645" textLength="22.5" lengthAdjust="spacingAndGlyphs">1.95T</text>
<text x="344.2" y="40.2" font-size="10.6" fill="#f23645" stroke="#f23645" textLength="72" lengthAdjust="spacingAndGlyphs">−50.376B (−2.52%)</text>
<text x="422" y="40.2" font-size="10.6" fill="#2a2e39" stroke="#2a2e39" textLength="11.8" lengthAdjust="spacingAndGlyphs">Vol</text>
<text x="434.5" y="40.2" font-size="10.6" fill="#f23645" stroke="#f23645" textLength="31.4" lengthAdjust="spacingAndGlyphs">98.104B</text>
<g transform="translate(14.8,459.7) scale(0.39)" fill="#131722"><path d="M14 19H7V8H0V0h14v19z"/><circle cx="20" cy="4" r="4"/><path d="M28 19h-8l7.5-19h8L28 19z"/></g>
<text x="32.3" y="467.2" font-size="9.6" fill="#2a2e39" stroke="#2a2e39" textLength="50.5" lengthAdjust="spacingAndGlyphs" style="stroke-width:0.1px">TradingView</text>
</svg></body></html>
